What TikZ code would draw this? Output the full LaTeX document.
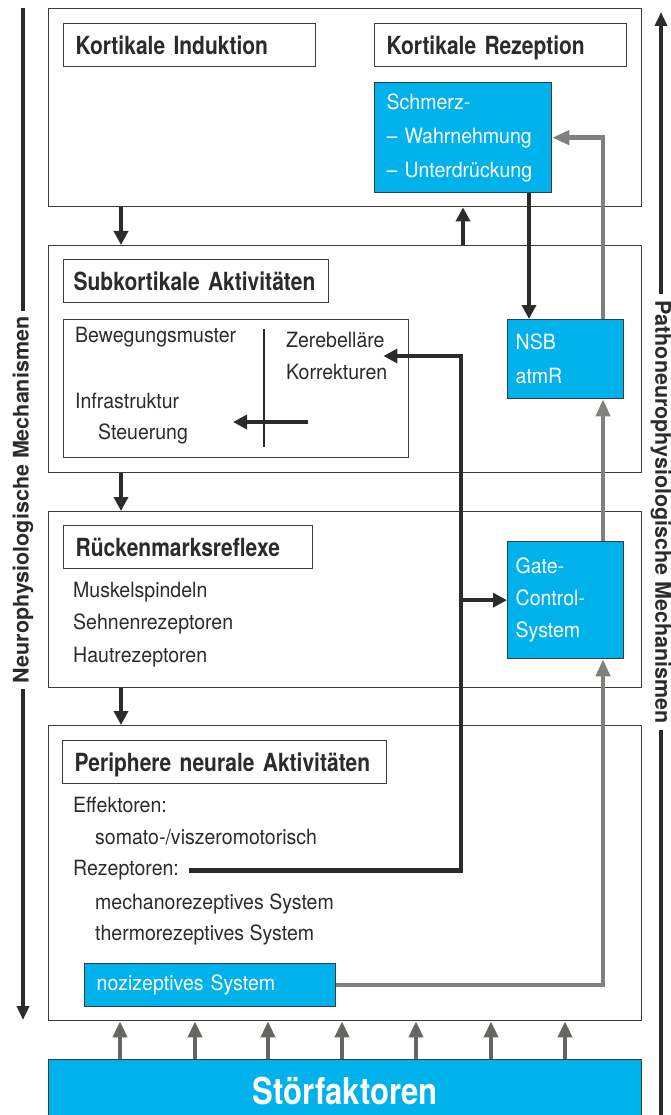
\documentclass[tikz,border=0pt]{standalone}
\usepackage{fontspec}
\setmainfont{TeX Gyre Heros}
\newfontfamily\hdrfam{TeX Gyre Heros}[FakeStretch=0.84]
\newfontfamily\bodyfam{TeX Gyre Heros}[FakeStretch=0.93]
\usetikzlibrary{arrows.meta,calc}
\definecolor{cblue}{RGB}{0,178,236}
\definecolor{ink}{RGB}{45,42,42}
\definecolor{edgec}{RGB}{60,60,60}
\definecolor{gline}{RGB}{128,128,124}
\definecolor{garrow}{RGB}{100,102,98}
\begin{document}
\begin{tikzpicture}[x=1pt,y=-1pt,
  lvl/.style={draw=edgec, line width=1.4pt, minimum width=593pt, inner sep=0pt, anchor=north west},
  hdr/.style={draw=edgec, line width=1.3pt, anchor=north west, minimum height=43pt, inner xsep=12pt, inner ysep=0pt, text height=20pt, text depth=2pt, text width=#1pt, align=left, text=ink, font=\hdrfam\bfseries\fontsize{25}{28}\selectfont},
  txt/.style={anchor=mid west, inner sep=0pt, text=ink, font=\bodyfam\fontsize{21}{32}\selectfont},
  bluebox/.style={draw=edgec, line width=1.3pt, fill=cblue, text=white, align=left, anchor=north west, inner ysep=0pt, font=\bodyfam\fontsize{21}{34}\selectfont},
  conn/.style={draw=ink, line width=4.5pt, -{Triangle[length=14pt,width=14pt]}},
  gconn/.style={draw=gline, line width=4.5pt, -{Triangle[length=17pt,width=14pt]}},
  smallarr/.style={draw=garrow, line width=4.5pt, -{Triangle[length=16pt,width=14pt]}},
  sideline/.style={draw=ink, line width=4pt},
  sidetxt/.style={text=ink, inner xsep=6pt, inner ysep=0pt, font=\bfseries\fontsize{21.5}{24}\selectfont}
]
\useasboundingbox (0,0) rectangle (671,1115);

% level boxes
\node[lvl, minimum height=198pt] (box1) at (48,8) {};
\node[lvl, minimum height=227pt] (box2) at (48,245) {};
\node[lvl, minimum height=176pt] (box3) at (48,511) {};
\node[lvl, minimum height=295pt] (box4) at (48,725) {};
\node[draw=edgec, line width=1.3pt, fill=cblue, anchor=north west, minimum width=593pt, minimum height=62pt, text=white, font=\hdrfam\bfseries\fontsize{37}{40}\selectfont] (stoer) at (48,1059) {Störfaktoren};

% headers
\node[hdr=228] (hki) at (63,23) {\mbox{Kortikale Induktion}};
\node[hdr=228] (hkr) at (374,23) {\mbox{Kortikale Rezeption}};
\node[hdr=245, inner xsep=10pt] (hsa) at (63,259) {\mbox{Subkortikale Aktivitäten}};
\node[hdr=225] (hrr) at (63,525) {\mbox{Rückenmarksreflexe}};
\node[hdr=300] (hpa) at (62,740) {\mbox{Periphere neurale Aktivitäten}};

% blue boxes
\node[bluebox, inner xsep=12pt, text width=153pt, minimum height=110pt] (schmerz) at (374,82) {Schmerz-\\– Wahrnehmung\\– Unterdrückung};
\node[bluebox, inner xsep=8pt, text width=100pt, minimum height=79pt] (nsb) at (507,319) {NSB\\atmR};
\node[bluebox, inner xsep=8pt, text width=100pt, minimum height=117pt, font=\bodyfam\fontsize{21}{32}\selectfont] (gate) at (507,541) {Gate-\\Control-\\System};
\node[bluebox, inner xsep=12pt, text width=227pt, minimum height=43pt] (noz) at (84,963) {nozizeptives System};

% subcortical inner box
\node[draw=edgec, line width=1.3pt, anchor=north west, minimum width=345pt, minimum height=138pt, inner sep=0pt] (inner) at (63,319) {};
\coordinate (divtop) at (264,329);
\coordinate (divbot) at (264,447);
\draw[draw=ink, line width=1.3pt] (divtop) -- (divbot);
\node[txt] (bew) at (75,340) {Bewegungsmuster};
\node[txt, anchor=west, align=left] (zer) at (286,356) {Zerebelläre\\Korrekturen};
\node[txt] (infra) at (75,406) {Infrastruktur};
\node[txt] (steu) at (98,437) {Steuerung};
\coordinate (sa1) at (308,422);
\coordinate (sa2) at (233,422);
\draw[conn] (sa1) -- (sa2);

% spinal texts
\node[txt] (musk) at (73,595) {Muskelspindeln};
\node[txt] (sehn) at (73,627) {Sehnenrezeptoren};
\node[txt] (haut) at (73,660) {Hautrezeptoren};

% peripheral texts
\node[txt] (eff) at (73,810) {Effektoren:};
\node[txt] (som) at (95,842) {somato-/viszeromotorisch};
\node[txt] (rez) at (73,873) {Rezeptoren:};
\node[txt] (mech) at (95,907) {mechanorezeptives System};
\node[txt] (therm) at (95,938) {thermorezeptives System};

% columns
\coordinate (cL) at (121,0);
\coordinate (cU) at (463,0);
\coordinate (cS) at (529,0);
\coordinate (cG) at (603,0);
\coordinate (cB) at (461,0);

% level arrows
\draw[conn] (cL |- box1.south) -- (cL |- box2.north);
\draw[conn] (cU |- box2.north) -- (cU |- box1.south);
\draw[conn] (cL |- box2.south) -- (cL |- box3.north);
\draw[conn] (cL |- box3.south) -- (cL |- box4.north);

% black connectors
\draw[conn] (cS |- schmerz.south) -- (cS |- nsb.north);
\draw[conn, line join=miter] ([xshift=10pt]rez.east) -| (cB |- zer.east) -- ([xshift=-4pt]zer.east);
\draw[conn] (cB |- gate.west) -- (gate.west);

% gray connectors
\draw[gconn, line join=miter] (cG |- nsb.north) |- (schmerz.east);
\draw[gconn] (cG |- gate.north) -- (cG |- nsb.south);
\draw[gconn, line join=miter] (noz.east) -| (cG |- gate.south);

% small arrows from Störfaktoren
\foreach \x in {120,195,268,342,416,491,565}
  \draw[smallarr] (\x,0 |- stoer.north) -- (\x,0 |- box4.south);

% side labels
\node[sidetxt, rotate=90] (lt) at (23,500) {Neurophysiologische Mechanismen};
\coordinate (ltop) at (23,8);
\coordinate (lbot) at (23,1020);
\draw[sideline] (lt.east) -- (ltop);
\draw[sideline, -{Triangle[length=14pt,width=12pt]}] (lt.west) -- (lbot);

\node[sidetxt, rotate=-90] (rt) at (661,512) {Pathoneurophysiologische Mechanismen};
\coordinate (rtop) at (661,12);
\coordinate (rbot) at (661,1118);
\draw[sideline, -{Triangle[length=14pt,width=12pt]}] (rt.west) -- (rtop);
\draw[sideline] (rt.east) -- (rbot);
\end{tikzpicture}
\end{document}
